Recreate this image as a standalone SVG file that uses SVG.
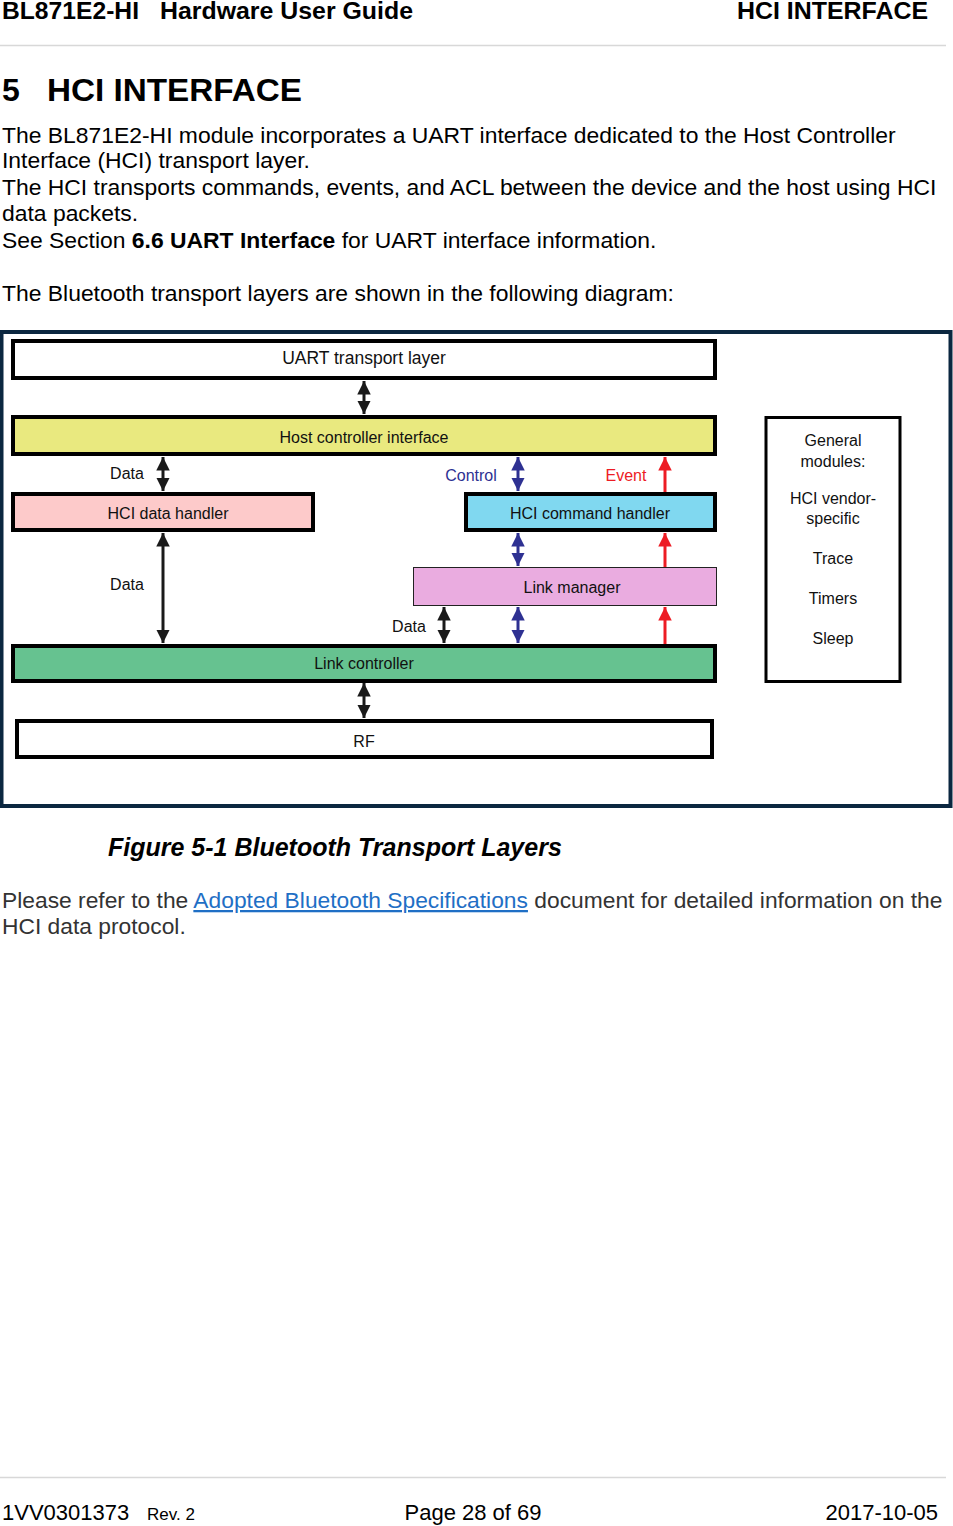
<svg xmlns="http://www.w3.org/2000/svg" width="953" height="1526" viewBox="0 0 953 1526">
<defs>
<style>
.t{font-family:"Liberation Sans",Arial,sans-serif;fill:#000;white-space:pre}
.body{font-size:22.9px}
.d{font-family:"Liberation Sans",Arial,sans-serif;font-size:16px;fill:#111;text-anchor:middle}
.box{stroke:#000;stroke-width:4}
.blk{stroke:#1a1a1a;stroke-width:3;fill:none}
.blu{stroke:#2e3192;stroke-width:3;fill:none}
.red{stroke:#ed1c24;stroke-width:3;fill:none}
</style>
<marker id="ak" viewBox="0 0 10 10" refX="10" refY="5" markerWidth="4.5" markerHeight="4.5" orient="auto-start-reverse" markerUnits="strokeWidth"><path d="M0,0L10,5L0,10z" fill="#1a1a1a"/></marker>
<marker id="ab" viewBox="0 0 10 10" refX="10" refY="5" markerWidth="4.5" markerHeight="4.5" orient="auto-start-reverse" markerUnits="strokeWidth"><path d="M0,0L10,5L0,10z" fill="#2e3192"/></marker>
<marker id="ar" viewBox="0 0 10 10" refX="10" refY="5" markerWidth="4.5" markerHeight="4.5" orient="auto-start-reverse" markerUnits="strokeWidth"><path d="M0,0L10,5L0,10z" fill="#ed1c24"/></marker>
</defs>
<rect width="953" height="1526" fill="#fff"/>
<g id="header">
<text class="t" x="2" y="19" font-size="23" font-weight="bold" textLength="137" lengthAdjust="spacingAndGlyphs">BL871E2-HI</text>
<text class="t" x="160" y="19" font-size="23" font-weight="bold" textLength="253" lengthAdjust="spacingAndGlyphs">Hardware User Guide</text>
<text class="t" x="737" y="19" font-size="23" font-weight="bold" textLength="191" lengthAdjust="spacingAndGlyphs">HCI INTERFACE</text>
<line x1="0" y1="45.5" x2="946" y2="45.5" stroke="#d8d8d8" stroke-width="1.5"/>
</g>
<g id="body">
<text class="t" x="2" y="101" font-size="32" font-weight="bold">5</text>
<text class="t" x="47" y="101" font-size="32" font-weight="bold" textLength="255" lengthAdjust="spacingAndGlyphs">HCI INTERFACE</text>
<text class="t body" x="2" y="143">The BL871E2-HI module incorporates a UART interface dedicated to the Host Controller</text>
<text class="t body" x="2" y="168">Interface (HCI) transport layer.</text>
<text class="t body" x="2" y="195">The HCI transports commands, events, and ACL between the device and the host using HCI</text>
<text class="t body" x="2" y="221">data packets.</text>
<text class="t body" x="2" y="248">See Section <tspan font-weight="bold">6.6 UART Interface</tspan> for UART interface information.</text>
<text class="t body" x="2" y="301">The Bluetooth transport layers are shown in the following diagram:</text>
</g>
<g id="frame">
<rect x="1.5" y="332" width="949" height="474" fill="#fff" stroke="#0b2740" stroke-width="4"/>
</g>
<g id="connectors">
<line class="blk" x1="364" y1="381" x2="364" y2="414" marker-start="url(#ak)" marker-end="url(#ak)"/>
<line class="blk" x1="163" y1="457" x2="163" y2="491" marker-start="url(#ak)" marker-end="url(#ak)"/>
<line class="blk" x1="163" y1="533" x2="163" y2="643" marker-start="url(#ak)" marker-end="url(#ak)"/>
<line class="blu" x1="518" y1="457" x2="518" y2="491" marker-start="url(#ab)" marker-end="url(#ab)"/>
<line class="red" x1="665" y1="492" x2="665" y2="457" marker-end="url(#ar)"/>
<line class="blu" x1="518" y1="533" x2="518" y2="566" marker-start="url(#ab)" marker-end="url(#ab)"/>
<line class="red" x1="665" y1="567" x2="665" y2="533" marker-end="url(#ar)"/>
<line class="blk" x1="444" y1="607" x2="444" y2="643" marker-start="url(#ak)" marker-end="url(#ak)"/>
<line class="blu" x1="518" y1="607" x2="518" y2="643" marker-start="url(#ab)" marker-end="url(#ab)"/>
<line class="red" x1="665" y1="644" x2="665" y2="607" marker-end="url(#ar)"/>
<line class="blk" x1="364" y1="683" x2="364" y2="718" marker-start="url(#ak)" marker-end="url(#ak)"/>
<text class="d" x="127" y="479">Data</text>
<text class="d" x="127" y="590">Data</text>
<text class="d" x="409" y="632">Data</text>
<text class="d" x="471" y="481" style="fill:#2e3192">Control</text>
<text class="d" x="626" y="481" style="fill:#ed1c24">Event</text>
</g>
<g id="uart">
<rect class="box" x="13" y="341" width="702" height="37" fill="#fff"/>
<text class="d" x="364" y="364" style="font-size:17.5px">UART transport layer</text>
</g>
<g id="hci">
<rect class="box" x="13" y="417" width="702" height="37" fill="#e9e97f"/>
<text class="d" x="364" y="443">Host controller interface</text>
</g>
<g id="datahandler">
<rect class="box" x="13" y="494" width="300" height="36" fill="#fdcaca"/>
<text class="d" x="168" y="519">HCI data handler</text>
</g>
<g id="cmdhandler">
<rect class="box" x="466" y="494" width="249" height="36" fill="#80d8f0"/>
<text class="d" x="590" y="519">HCI command handler</text>
</g>
<g id="linkmanager">
<rect x="413.5" y="567.5" width="303" height="38" fill="#eaace0" stroke="#222" stroke-width="1"/>
<text class="d" x="572" y="593">Link manager</text>
</g>
<g id="linkcontroller">
<rect class="box" x="13" y="646" width="702" height="35" fill="#66c290"/>
<text class="d" x="364" y="669">Link controller</text>
</g>
<g id="rf">
<rect class="box" x="17" y="721" width="695" height="36" fill="#fff"/>
<text class="d" x="364" y="747">RF</text>
</g>
<g id="general">
<rect x="766" y="417.5" width="134" height="264" fill="#fff" stroke="#000" stroke-width="3"/>
<text class="d" x="833" y="446">General</text>
<text class="d" x="833" y="467">modules:</text>
<text class="d" x="833" y="504">HCI vendor-</text>
<text class="d" x="833" y="524">specific</text>
<text class="d" x="833" y="564">Trace</text>
<text class="d" x="833" y="604">Timers</text>
<text class="d" x="833" y="644">Sleep</text>
</g>
<g id="caption">
<text class="t" x="108" y="856" font-size="25" font-weight="bold" font-style="italic">Figure 5-1 Bluetooth Transport Layers</text>
<text class="t" x="2" y="908" font-size="22.8" style="fill:#333">Please refer to the <tspan style="fill:#1f6fc5" text-decoration="underline">Adopted Bluetooth Specifications</tspan> document for detailed information on the</text>
<text class="t" x="2" y="934" font-size="22.8" style="fill:#333">HCI data protocol.</text>
</g>
<g id="footer">
<line x1="0" y1="1477.5" x2="946" y2="1477.5" stroke="#d8d8d8" stroke-width="1.5"/>
<text class="t" x="2" y="1520" font-size="22">1VV0301373</text>
<text class="t" x="147" y="1520" font-size="17">Rev. 2</text>
<text class="t" x="473" y="1520" font-size="22" text-anchor="middle">Page 28 of 69</text>
<text class="t" x="938" y="1520" font-size="22" text-anchor="end">2017-10-05</text>
</g>
</svg>
